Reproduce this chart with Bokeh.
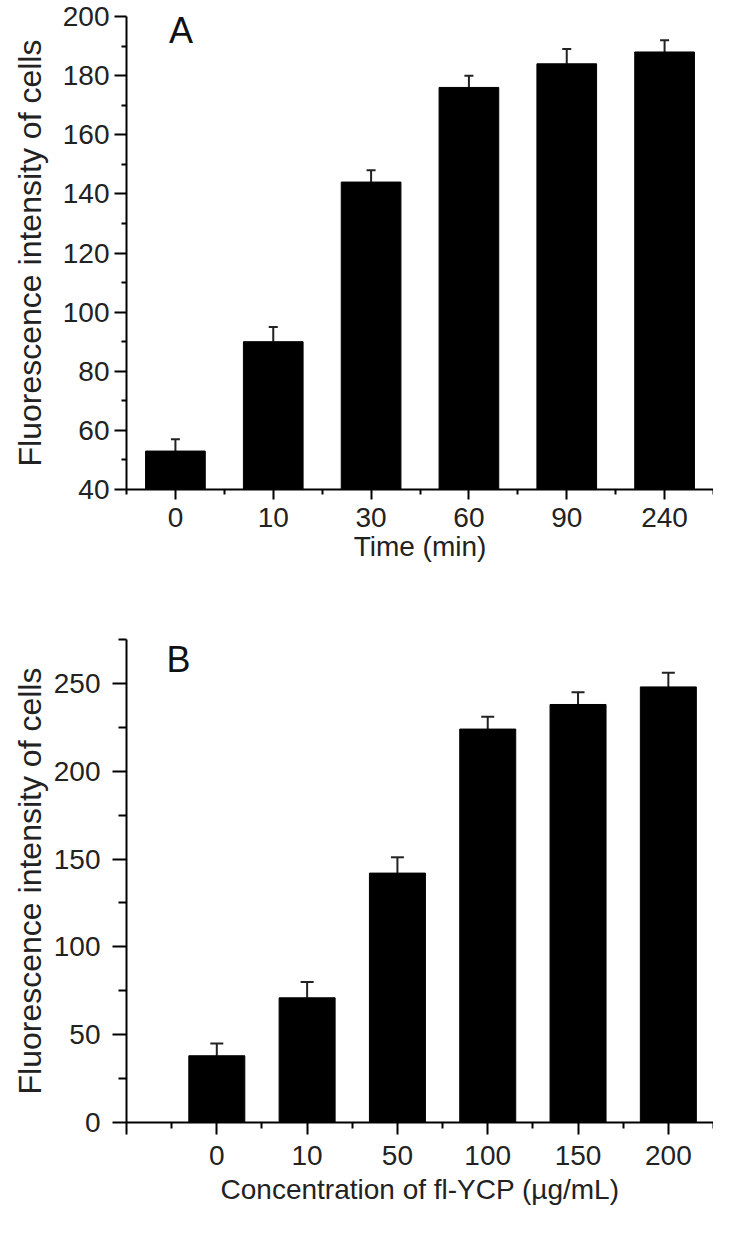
from bokeh.plotting import figure
from bokeh.models import Range1d, FixedTicker, Whisker, TeeHead, ColumnDataSource, Label
from bokeh.layouts import column
from bokeh.embed import file_html
from bokeh.resources import INLINE

# Panel A: fluorescence vs time
time_labels = ["0", "10", "30", "60", "90", "240"]
time_values = [53, 90, 144, 176, 184, 188]
time_errors = [4, 5, 4, 4, 5, 4]

# Panel B: fluorescence vs concentration
conc_labels = ["0", "10", "50", "100", "150", "200"]
conc_values = [38, 71, 142, 224, 238, 248]
conc_errors = [7, 9, 9, 7, 7, 8]

y_title = "Fluorescence intensity of cells"
x_title_a = "Time (min)"
x_title_b = "Concentration of fl-YCP (\u00b5g/mL)"
FONT = "Liberation Sans"
TXT = "#222222"


def style(p):
    p.outline_line_color = None
    p.xgrid.visible = False
    p.ygrid.visible = False
    for ax in (p.xaxis[0], p.yaxis[0]):
        ax.axis_line_width = 2
        ax.axis_line_color = "black"
        ax.major_tick_line_width = 2
        ax.minor_tick_line_width = 2
        ax.major_tick_line_color = "black"
        ax.minor_tick_line_color = "black"
        ax.major_tick_in = 0
        ax.minor_tick_in = 0
        ax.major_label_text_font = FONT
        ax.major_label_text_color = TXT
        ax.major_label_text_font_size = "28px"
        ax.axis_label_text_font = FONT
        ax.axis_label_text_color = TXT
        ax.axis_label_text_font_style = "normal"


def make_panel(labels, values, errors, ymin, ymax, yticks, yminor, xstart,
               show_zero_tick, height, b_top, b_bottom, cap, bar_w, xtitle):
    n = len(labels)
    xs = list(range(1, n + 1))
    p = figure(width=713, height=height, output_backend="svg", toolbar_location=None,
               x_range=Range1d(xstart, n + 0.5), y_range=Range1d(ymin, ymax),
               min_border_left=126, min_border_right=0,
               min_border_top=b_top, min_border_bottom=b_bottom)
    style(p)
    src = ColumnDataSource(dict(x=xs, top=values,
                                upper=[v + e for v, e in zip(values, errors)]))
    p.vbar(x="x", top="top", bottom=ymin, width=bar_w, source=src,
           fill_color="black", line_color="black")
    p.add_layout(Whisker(source=src, base="x", lower="top", upper="upper",
                         line_width=2, line_color=TXT,
                         upper_head=TeeHead(size=cap, line_width=2, line_color=TXT),
                         lower_head=None))
    major = ([0] if show_zero_tick else []) + xs
    minor = [x + 0.5 for x in range(0, n + 1)]
    p.xaxis.ticker = FixedTicker(ticks=major, minor_ticks=minor)
    overrides = {x: lab for x, lab in zip(xs, labels)}
    if show_zero_tick:
        overrides[0] = ""
    p.xaxis.major_label_overrides = overrides
    p.yaxis.ticker = FixedTicker(ticks=yticks, minor_ticks=yminor)
    p.xaxis.axis_label = xtitle
    p.yaxis.axis_label = y_title
    p.xaxis.axis_label_text_font_size = "28px"
    p.yaxis.axis_label_text_font_size = "32px"
    return p


def add_letter(p, x, y, text):
    p.add_layout(Label(x=x, y=y, text=text,
                       text_font=FONT, text_font_size="36px", text_color="#111111",
                       text_align="center", text_baseline="middle"))


pA = make_panel(time_labels, time_values, time_errors, 40, 200,
                list(range(40, 201, 20)), list(range(50, 200, 20)), 0.5, False,
                569, 16, 80, 9, 0.61, x_title_a)
pA.xaxis.major_tick_out = 10
pA.xaxis.minor_tick_out = 5
pA.yaxis.major_tick_out = 12
pA.yaxis.minor_tick_out = 5
pA.xaxis.major_label_standoff = 8
pA.yaxis.major_label_standoff = 5
pA.xaxis.axis_label_standoff = 1
pA.yaxis.axis_label_standoff = 12
add_letter(pA, 1.058, 195.2, "A")

pB = make_panel(conc_labels, conc_values, conc_errors, 0, 275,
                list(range(0, 251, 50)), list(range(25, 276, 50)), 0, True,
                648, 70, 95, 13, 0.62, x_title_b)
pB.xaxis.major_tick_out = 12
pB.xaxis.minor_tick_out = 6
pB.yaxis.major_tick_out = 14
pB.yaxis.minor_tick_out = 8
pB.xaxis.major_label_standoff = 11
pB.yaxis.major_label_standoff = 12
pB.xaxis.axis_label_standoff = 6
pB.yaxis.axis_label_standoff = 3
add_letter(pB, 0.577, 263.6, "B")

layout = column(pA, pB, spacing=0)
open("out.html", "w").write(file_html(layout, INLINE))
